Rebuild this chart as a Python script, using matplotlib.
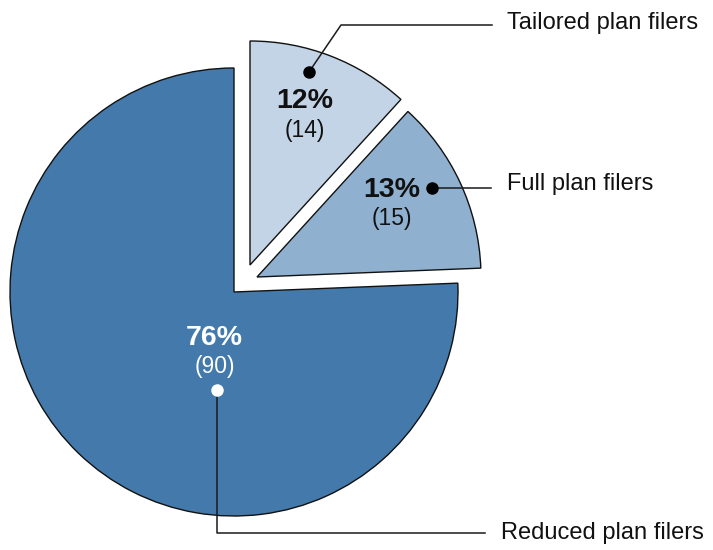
import matplotlib
matplotlib.use("Agg")
import matplotlib.pyplot as plt

plt.rcParams['font.family'] = ['Liberation Sans', 'DejaVu Sans']

categories = ["Tailored plan filers", "Full plan filers", "Reduced plan filers"]
counts = [14, 15, 90]
percents = ["12%", "13%", "76%"]
colors = ["#c2d4e6", "#8fb0cf", "#437aab"]

W, H = 713, 550
fig = plt.figure(figsize=(W / 100, H / 100), dpi=100)
ax = fig.add_axes([0, 0, 1, 1])

def Y(y):
    return H - y

cx, cy, R = 234, Y(292), 224
wedges, _ = ax.pie(counts, radius=R, center=(cx, cy), startangle=90,
                   counterclock=False, colors=colors,
                   wedgeprops=dict(edgecolor='#111111', linewidth=1.0),
                   frame=True)
ax.set_xlim(0, W)
ax.set_ylim(0, H)
ax.set_aspect('equal')
ax.axis('off')
# explode the two small slices
wedges[0].set_center((250, Y(265)))
wedges[1].set_center((257, Y(277)))

# value labels
ax.text(305, Y(101), percents[0], ha='center', va='center', fontsize=20.5, fontweight='bold', color='#111111')
ax.text(305, Y(130), f"({counts[0]})", ha='center', va='center', fontsize=16.5, color='#111111')
ax.text(392, Y(190), percents[1], ha='center', va='center', fontsize=20.5, fontweight='bold', color='#111111')
ax.text(392, Y(219), f"({counts[1]})", ha='center', va='center', fontsize=16.5, color='#111111')
ax.text(214, Y(338), percents[2], ha='center', va='center', fontsize=20.5, fontweight='bold', color='white')
ax.text(215, Y(367), f"({counts[2]})", ha='center', va='center', fontsize=16.5, color='white')

lc = '#1a1a1a'
# Tailored leader
ax.plot([309, 341, 492], [Y(72), Y(25), Y(25)], color=lc, lw=1.1, zorder=5)
ax.plot([309], [Y(72)], 'o', color='black', ms=8, zorder=6)
ax.text(507, Y(23), categories[0], ha='left', va='center', fontsize=17, color='#111111')
# Full leader
ax.plot([432, 491], [Y(188), Y(188)], color=lc, lw=1.1, zorder=5)
ax.plot([432], [Y(188)], 'o', color='black', ms=8, zorder=6)
ax.text(507, Y(184), categories[1], ha='left', va='center', fontsize=17, color='#111111')
# Reduced leader
ax.plot([217, 217, 485], [Y(390), Y(533), Y(533)], color=lc, lw=1.1, zorder=5)
ax.plot([217], [Y(390)], 'o', color='white', ms=8, zorder=6)
ax.text(501, Y(533), categories[2], ha='left', va='center', fontsize=17, color='#111111')

fig.savefig("out.png", dpi=100)
